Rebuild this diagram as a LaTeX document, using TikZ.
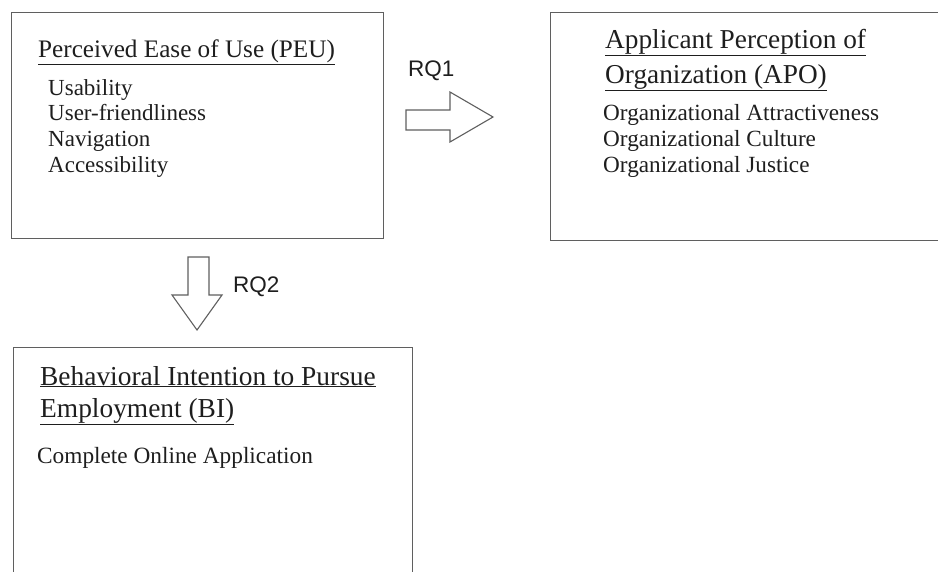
\documentclass[tikz,border=0pt]{standalone}
\usepackage{fontspec}
\setmainfont{Liberation Serif}
\newfontfamily\rqfont{Liberation Sans}
\definecolor{boxline}{RGB}{95,95,95}
\definecolor{txt}{RGB}{30,30,30}
\begin{document}
\begin{tikzpicture}[x=1pt,y=-1pt,
  box/.style={draw=boxline,line width=1.3pt,rectangle,inner sep=0pt,anchor=north west},
  blockarrow/.style={draw=boxline,line width=1.1pt,fill=white,line join=miter},
  ttl/.style={anchor=base west,inner sep=0pt,text=txt},
  itm/.style={anchor=base west,inner sep=0pt,text=txt},
  rq/.style={anchor=base west,inner sep=0pt,text=txt,font=\rqfont\fontsize{22.5}{27}\selectfont}]
\useasboundingbox (0,0) rectangle (938,571);
\clip (0,0) rectangle (938,571);
% boxes
\node[box,minimum width=372pt,minimum height=226pt] (peu) at (11,12) {};
\node[box,minimum width=400pt,minimum height=228pt] (apo) at (550,12) {};
\node[box,minimum width=399pt,minimum height=240pt] (bi) at (13,347) {};
% PEU text
\node[ttl,font=\fontsize{25.2}{30}\selectfont] (peut) at (38,57) {\underline{Perceived Ease of Use (PEU)}};
\begin{scope}[every node/.style={itm,font=\fontsize{23}{27}\selectfont}]
\node (u1) at (48,95) {Usability};
\node (u2) at (48,120.7) {User-friendliness};
\node (u3) at (48,146.3) {Navigation};
\node (u4) at (48,172) {Accessibility};
\end{scope}
% APO text
\node[ttl,font=\fontsize{27.3}{32}\selectfont] (apot1) at (605,48) {\underline{Applicant Perception of}};
\node[ttl,font=\fontsize{27.3}{32}\selectfont] (apot2) at (605,83) {\underline{Organization (APO)}};
\begin{scope}[every node/.style={itm,font=\fontsize{23.2}{27}\selectfont}]
\node (a1) at (603,120) {Organizational Attractiveness};
\node (a2) at (603,146) {Organizational Culture};
\node (a3) at (603,172) {Organizational Justice};
\end{scope}
% BI text
\node[ttl,font=\fontsize{27.4}{32}\selectfont] (bit1) at (40,385) {\underline{Behavioral Intention to Pursue}};
\node[ttl,font=\fontsize{27.4}{32}\selectfont] (bit2) at (40,417) {\underline{Employment (BI)}};
\node[itm,font=\fontsize{23.3}{27}\selectfont] (b1) at (37,463) {Complete Online Application};
% block arrows
\draw[blockarrow] (406,110) -- (450,110) -- (450,92) -- (493,117) -- (450,142) -- (450,130) -- (406,130) -- cycle;
\draw[blockarrow] (188,257) -- (209,257) -- (209,295) -- (222,295) -- (197,330) -- (172,295) -- (188,295) -- cycle;
\node[rq] (rq1) at (408,76) {RQ1};
\node[rq] (rq2) at (233,292) {RQ2};
\end{tikzpicture}
\end{document}
